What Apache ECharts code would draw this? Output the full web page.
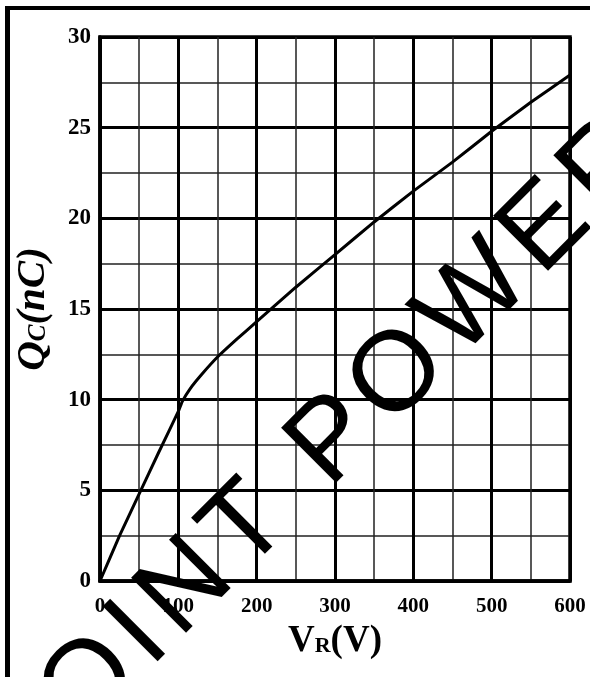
<!DOCTYPE html>
<html>
<head>
<meta charset="utf-8">
<script src="https://cdn.jsdelivr.net/npm/echarts@6/dist/echarts.min.js"></script>
<style>
  html, body { margin: 0; padding: 0; background: #fff; }
  #qcChart { width: 590px; height: 677px; }
</style>
</head>
<body>
<div id="qcChart"></div>
<script>
// reverse voltage VR (V) and charge QC (nC)
const vrData = [0, 25, 50, 75, 100, 105, 115, 130, 150, 175, 200, 250, 300, 350, 400, 450, 500, 550, 600]
const qcData = [0, 2.5, 4.8, 7.1, 9.35, 9.9, 10.6, 11.4, 12.35, 13.35, 14.3, 16.2, 18.0, 19.8, 21.5, 23.1, 24.8, 26.4, 27.9]
const watermark = 'JOINT POWER TECH'

const chart = echarts.init(document.getElementById('qcChart'))
const labelFont = 'Liberation Serif'
const pts = vrData.map((v, i) => [v, qcData[i]])

// watermark letters laid out one by one along a 45 degree baseline
const wmSize = 113
const wmGap = 10
const wmFont = wmSize + 'px "Liberation Sans"'
const ctx = document.createElement('canvas').getContext('2d')
ctx.font = wmFont
const k = Math.SQRT1_2
const anchor = [167, 663] // foot of the "I" stem
let s = -(ctx.measureText('J').width + ctx.measureText('O').width + 2 * wmGap + 0.139 * wmSize)
const wmItems = []
for (const ch of watermark) {
  const bx = anchor[0] + s * k
  const by = anchor[1] - s * k
  const m = 0.3465 * wmSize
  wmItems.push({
    type: 'text',
    x: bx - m * k,
    y: by - m * k,
    rotation: Math.PI / 4,
    z: 100,
    silent: true,
    style: { text: ch, font: wmFont, fill: '#000', align: 'left', verticalAlign: 'middle' }
  })
  s += ctx.measureText(ch).width + wmGap
}

const options = {
  animation: false,
  backgroundColor: '#fff',
  grid: {
    left: 100,
    right: 20,
    top: 37,
    bottom: 96,
    show: true,
    borderColor: '#000',
    borderWidth: 3.5
  },
  xAxis: {
    type: 'value',
    min: 0,
    max: 600,
    interval: 100,
    name: '{v|V}{r|R}{v|(V)}',
    nameLocation: 'middle',
    nameGap: 42,
    nameTextStyle: {
      rich: {
        v: { fontFamily: labelFont, fontWeight: 'bold', fontSize: 37, color: '#000', verticalAlign: 'bottom' },
        r: { fontFamily: labelFont, fontWeight: 'bold', fontSize: 22, color: '#000', verticalAlign: 'bottom', padding: [0, 0, 3, 0] }
      }
    },
    axisLine: { show: true, lineStyle: { color: '#000', width: 3.5 } },
    axisTick: { show: false },
    axisLabel: {
      margin: 15,
      color: '#000',
      fontFamily: labelFont,
      fontWeight: 'bold',
      fontSize: 21
    },
    splitLine: { show: true, lineStyle: { color: '#000', width: 3 } },
    minorTick: { show: false, splitNumber: 2 },
    minorSplitLine: { show: true, lineStyle: { color: '#222', width: 1.5 } }
  },
  yAxis: {
    type: 'value',
    min: 0,
    max: 30,
    interval: 5,
    name: '{q|Q}{c|C}{q|(nC)}',
    nameLocation: 'middle',
    nameRotate: 90,
    nameGap: 46,
    nameTextStyle: {
      rich: {
        q: { fontFamily: labelFont, fontWeight: 'bold', fontStyle: 'italic', fontSize: 41, color: '#000', verticalAlign: 'bottom' },
        c: { fontFamily: labelFont, fontWeight: 'bold', fontStyle: 'italic', fontSize: 25, color: '#000', verticalAlign: 'bottom', padding: [0, 0, 3, 0] }
      }
    },
    axisLine: { show: true, lineStyle: { color: '#000', width: 3.5 } },
    axisTick: { show: false },
    axisLabel: {
      margin: 9,
      color: '#000',
      fontFamily: labelFont,
      fontWeight: 'bold',
      fontSize: 23
    },
    splitLine: { show: true, lineStyle: { color: '#000', width: 3 } },
    minorTick: { show: false, splitNumber: 2 },
    minorSplitLine: { show: true, lineStyle: { color: '#222', width: 1.5 } }
  },
  series: [{
    type: 'line',
    data: pts,
    symbol: 'none',
    smooth: 0.15,
    lineStyle: { color: '#000', width: 3 },
    z: 5
  }],
  graphic: [
    // page frame
    { type: 'line', shape: { x1: 5, y1: 8, x2: 590, y2: 8 }, style: { stroke: '#000', lineWidth: 4 }, z: 50 },
    { type: 'line', shape: { x1: 7.5, y1: 6, x2: 7.5, y2: 677 }, style: { stroke: '#000', lineWidth: 5 }, z: 50 }
  ].concat(wmItems)
}
chart.setOption(options)
</script>
</body>
</html>
